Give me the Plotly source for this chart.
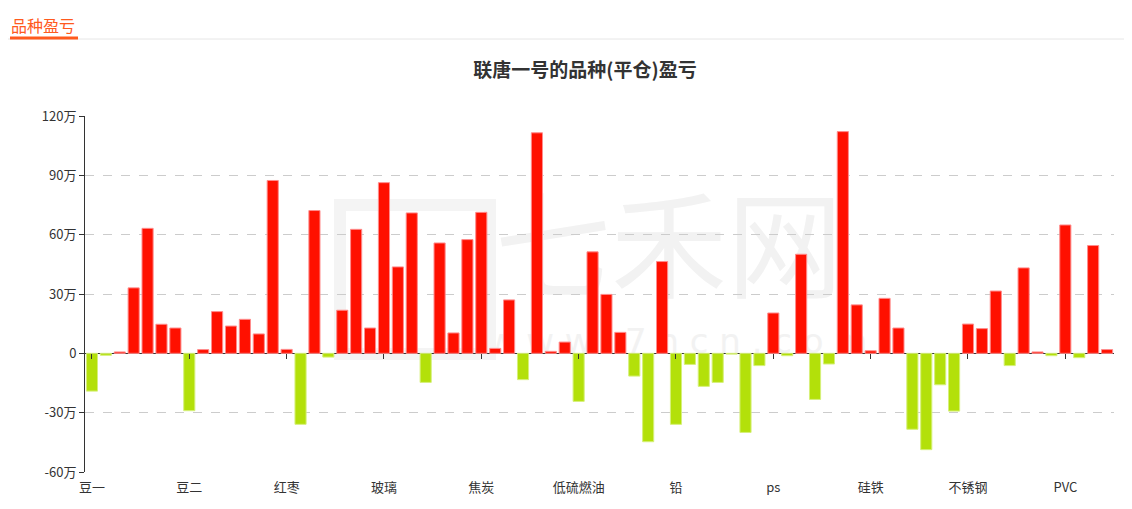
"""品种盈亏 bar chart: realised (平仓) profit/loss per futures variety, in 万元."""

import plotly.graph_objects as go

# categories (only every 7th is labelled on the axis)
CATEGORIES = [
    "豆一", "豆粕", "豆油", "玉米", "淀粉", "鸡蛋", "生猪",
    "豆二", "棕榈油", "菜粕", "菜油", "棉花", "白糖", "苹果",
    "红枣", "花生", "甲醇", "PTA", "尿素", "纯碱", "短纤",
    "玻璃", "螺纹钢", "热卷", "铁矿石", "锰硅", "焦煤", "线材",
    "焦炭", "原油", "燃油", "沥青", "橡胶", "20号胶", "纸浆",
    "低硫燃油", "沪铜", "沪铝", "沪锌", "沪镍", "沪锡", "黄金",
    "铅", "白银", "国际铜", "液化气", "苯乙烯", "乙二醇", "pp",
    "ps", "塑料", "粳米", "晚籼稻", "早籼稻", "强麦", "普麦",
    "硅铁", "菜籽", "动力煤", "棉纱", "工业硅", "碳酸锂", "氧化铝",
    "不锈钢", "集运指数", "对二甲苯", "烧碱", "瓶片", "纯苯", "丙烯",
    "PVC", "胶合板", "纤维板", "粳稻",
]

# profit / loss, 万元
PNL = [
    -19.1, -1.0, 0.7, 33.1, 63.2, 14.7, 12.8,
    -29.0, 1.9, 21.1, 13.8, 17.2, 9.8, 87.4,
    2.0, -35.9, 72.2, -1.9, 21.8, 62.7, 12.8,
    86.3, 43.7, 71.0, -14.7, 55.8, 10.3, 57.5,
    71.3, 2.5, 27.0, -13.3, 111.5, 1.0, 5.7,
    -24.3, 51.3, 29.8, 10.6, -11.5, -44.7, 46.4,
    -35.9, -5.6, -16.7, -14.7, -0.4, -40.0, -6.2,
    20.4, -1.2, 50.1, -23.3, -5.4, 112.1, 24.5,
    1.3, 27.8, 12.8, -38.4, -48.7, -15.9, -29.2,
    14.8, 12.5, 31.5, -6.2, 43.2, 0.7, -1.2,
    64.9, -2.2, 54.5, 1.9,
]

Y_TICKS = [-60, -30, 0, 30, 60, 90, 120]
Y_TICK_TEXT = ["-60万", "-30万", "0", "30万", "60万", "90万", "120万"]

RED = "#ff1000"
RED_EDGE = "#ff8c8c"
GREEN = "#b3e00a"
GREEN_EDGE = "#d6f07a"
ORANGE = "#ff5a1e"
FONT = "Noto Sans CJK SC, Microsoft YaHei, sans-serif"

# the page body adds an 8px margin; lay the figure out in window pixels minus that
OFF = 8
W, H = 1132 - OFF, 509 - OFF
L, R, T, B = 85 - OFF, 18, 116 - OFF, 37  # plot area margins in px
PW, PH = W - L - R, H - T - B


def px(x):
    """window x pixel -> paper x"""
    return (x - OFF - L) / PW


def py(y):
    """window y pixel -> paper y"""
    return (H - B - (y - OFF)) / PH


label_ticks = CATEGORIES[::7]
zero_pos = (0 - Y_TICKS[0]) / (Y_TICKS[-1] - Y_TICKS[0])

fig = go.Figure()
fig.add_trace(go.Bar(
    x=CATEGORIES, y=PNL,
    marker=dict(
        color=[RED if v >= 0 else GREEN for v in PNL],
        line=dict(color=[RED_EDGE if v >= 0 else GREEN_EDGE for v in PNL], width=1),
    ),
    hovertemplate="%{x}: %{y}万<extra></extra>",
    showlegend=False,
))
# helper trace so the zero-line tick axis has data
fig.add_trace(go.Scatter(
    x=CATEGORIES, y=[0] * len(CATEGORIES), xaxis="x2", mode="markers",
    marker=dict(opacity=0), hoverinfo="skip", showlegend=False,
))

fig.update_layout(
    width=W, height=H,
    margin=dict(l=L, r=R, t=T, b=B),
    paper_bgcolor="white", plot_bgcolor="white",
    font=dict(family=FONT, size=13, color="#333"),
    bargap=0.2,
    title=dict(
        text="<b>联唐一号的品种(平仓)盈亏</b>",
        x=(585 - OFF) / W, xanchor="center", y=1 - (70 - OFF) / H, yanchor="middle",
        font=dict(size=19, color="#333", family=FONT),
    ),
    xaxis=dict(
        type="category", categoryorder="array", categoryarray=CATEGORIES,
        tickmode="array", tickvals=label_ticks, ticktext=label_ticks,
        showline=False, showgrid=False, zeroline=False,
        ticks="outside", ticklen=3, tickcolor="rgba(0,0,0,0)",
        tickangle=0, tickfont=dict(size=13, color="#333"),
        range=[-0.5, len(CATEGORIES) - 0.5],
    ),
    xaxis2=dict(
        overlaying="x", matches="x", anchor="free", position=zero_pos, side="bottom",
        type="category", categoryorder="array", categoryarray=CATEGORIES,
        tickmode="array", tickvals=label_ticks,
        showticklabels=False, showline=False, showgrid=False, zeroline=False,
        ticks="outside", ticklen=5, tickcolor="#333", tickwidth=1,
    ),
    yaxis=dict(
        range=[Y_TICKS[0], Y_TICKS[-1]],
        tickmode="array", tickvals=Y_TICKS, ticktext=Y_TICK_TEXT,
        showline=True, linecolor="#333", linewidth=1,
        ticks="outside", ticklen=5, tickcolor="#333",
        showgrid=True, gridcolor="#cccccc", griddash="dash", gridwidth=1,
        zeroline=True, zerolinecolor="#333", zerolinewidth=1,
        tickfont=dict(size=13, color="#333"),
    ),
    annotations=[
        dict(
            text="品种盈亏", xref="paper", yref="paper",
            x=px(9), y=py(39), xanchor="left", yanchor="bottom",
            showarrow=False, font=dict(size=16, color=ORANGE, family=FONT),
        ),
    ],
    shapes=[
        # page header rule and orange underline
        dict(type="line", xref="paper", yref="paper", x0=px(0), x1=px(1140),
             y0=py(39), y1=py(39), line=dict(color="#e6e6e6", width=1)),
        dict(type="line", xref="paper", yref="paper", x0=px(10), x1=px(78),
             y0=py(38), y1=py(38), line=dict(color=ORANGE, width=3)),
        # faint watermark, behind bars
        dict(type="rect", xref="paper", yref="paper", layer="below",
             x0=px(508), x1=px(830), y0=py(312), y1=py(201),
             line=dict(width=0), fillcolor="rgba(0,0,0,0)",
             label=dict(text="七禾网", font=dict(size=116, color="#f2f2f2", family=FONT),
                        textposition="middle center")),
        dict(type="rect", xref="paper", yref="paper", layer="below",
             x0=px(525), x1=px(830), y0=py(356), y1=py(322),
             line=dict(width=0), fillcolor="rgba(0,0,0,0)",
             label=dict(text="w w w . 7 h c n . c o m",
                        font=dict(size=34, color="#f2f2f2", family="DejaVu Sans"),
                        textposition="middle center")),
        dict(type="rect", xref="paper", yref="paper", layer="below",
             x0=px(340), x1=px(490), y0=py(354), y1=py(205),
             line=dict(color="#f4f4f4", width=12), fillcolor="rgba(0,0,0,0)"),
    ],
)

fig.write_html("out.html")
